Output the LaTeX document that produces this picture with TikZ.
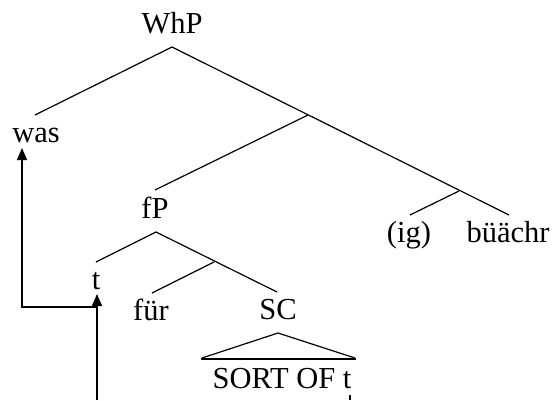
\documentclass[tikz,border=0pt]{standalone}
\usepackage{fontspec}
\newfontfamily\treefont{Liberation Serif}
\usetikzlibrary{arrows.meta}
\tikzset{
  lab/.style={inner sep=0pt, anchor=base, font=\treefont\fontsize{30.5}{36}\selectfont},
  branch/.style={line width=1.2pt},
  thickbase/.style={line width=2.2pt},
  move/.style={line width=1.2pt, -{Triangle[length=12pt,width=10pt]}}
}
\begin{document}
\begin{tikzpicture}[x=1pt,y=-1pt]
\useasboundingbox (0,0) rectangle (554,400);
% labels
\node[lab] (whp) at (172,33) {WhP};
\node[lab] (was) at (36,142) {was};
\node[lab] (fp) at (155,218) {fP};
\node[lab] (ig) at (409,242) {(ig)};
\node[lab] (bu) at (508,242) {büächr};
\node[lab] (t) at (96,289) {t};
\node[lab] (fur) at (151,320) {für};
\node[lab] (sc) at (278,319) {SC};
\node[lab] (sort) at (282,388) {SORT OF t};
% branch points
\coordinate (whpA) at (172,47);
\coordinate (wasT) at (35,115);
\coordinate (buT) at (509,215);
\coordinate (b1) at (308,115);
\coordinate (fpT) at (155,190);
\coordinate (b2) at (459,191);
\coordinate (igT) at (410,215);
\coordinate (fpA) at (156,232);
\coordinate (tT) at (96,262);
\coordinate (scT) at (277,292);
\coordinate (b3) at (214,262);
\coordinate (furT) at (152,293);
\coordinate (scA) at (278,333);
\coordinate (triL) at (202,358);
\coordinate (triR) at (355,358);
\coordinate (baseL) at (201,359);
\coordinate (baseR) at (356,359);
\coordinate (tTip) at (97,294);
\coordinate (tFoot) at (97,400);
\coordinate (corner1) at (97,307);
\coordinate (corner2) at (22,307);
\coordinate (wasTip) at (22,148);
\coordinate (tickA) at (350,395);
\coordinate (tickB) at (350,400);
% tree
\draw[branch] (wasT) -- (whpA) -- (buT);
\draw[branch] (b1) -- (fpT);
\draw[branch] (b2) -- (igT);
\draw[branch] (tT) -- (fpA) -- (scT);
\draw[branch] (b3) -- (furT);
\draw[branch] (triL) -- (scA) -- (triR);
\draw[thickbase] (baseL) -- (baseR);
\draw[branch] (tickA) -- (tickB);
% movement arrows
\draw[move] (tFoot) -- (tTip);
\draw[move] (corner1) -- (corner2) -- (wasTip);
\end{tikzpicture}
\end{document}
